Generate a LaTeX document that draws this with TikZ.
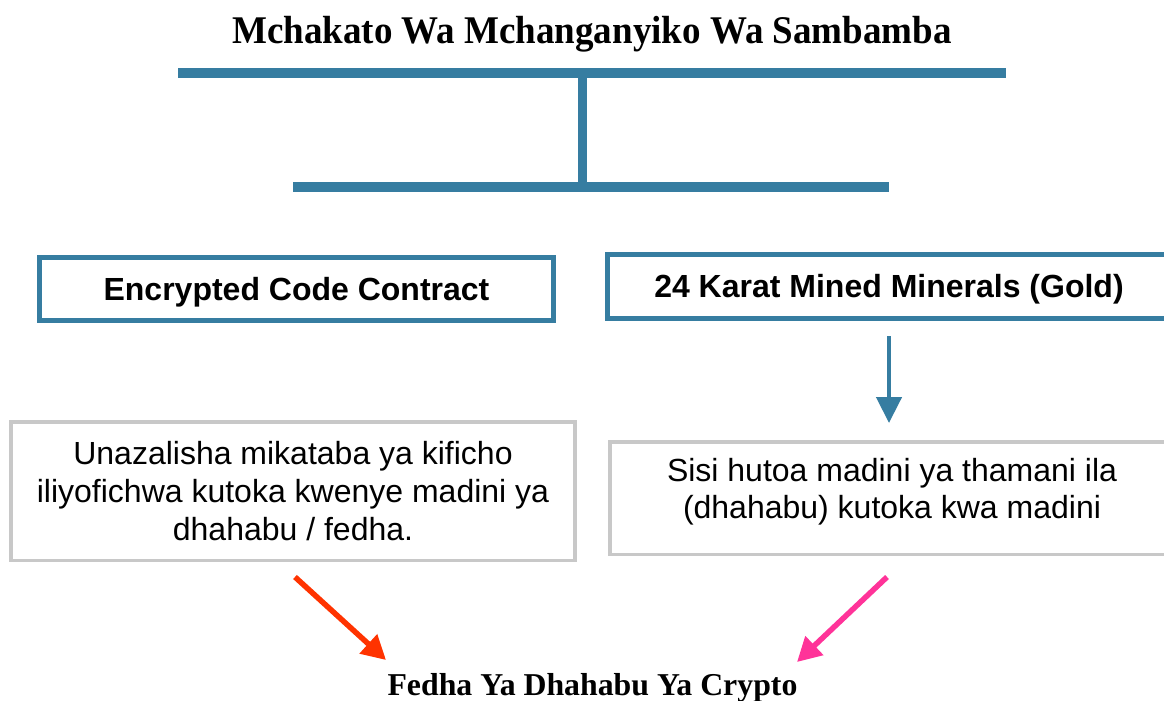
\documentclass[tikz,border=0pt]{standalone}
\usepackage{fontspec}
\setmainfont{Liberation Serif}
\newfontfamily\sansfam{Liberation Sans}
\usetikzlibrary{arrows.meta,calc}
\definecolor{steel}{RGB}{54,125,161}
\definecolor{boxgray}{RGB}{200,200,200}
\definecolor{redarr}{RGB}{255,51,0}
\definecolor{pinkarr}{RGB}{255,51,153}
\begin{document}
\begin{tikzpicture}[x=1pt,y=-1pt,
  bar/.style={draw=steel,line width=10pt},
  stem/.style={draw=steel,line width=9pt},
  headbox/.style={draw=steel,line width=5pt,fill=white,inner sep=0pt,
    font=\sansfam\bfseries\fontsize{32pt}{38pt}\selectfont,
    text height=26pt,text depth=4pt},
  textbox/.style={draw=boxgray,line width=3.5pt,fill=white,align=center,inner sep=0pt,
    font=\sansfam\fontsize{32pt}{38pt}\selectfont},
  heading/.style={inner sep=0pt,anchor=base},
  flow/.style={draw=steel,line width=4.5pt,-{Triangle[length=26pt,width=25pt]}},
  redflow/.style={draw=redarr,line width=5.5pt,-{Triangle[length=24pt,width=25pt]}},
  pinkflow/.style={draw=pinkarr,line width=5.5pt,-{Triangle[length=24pt,width=25pt]}}
]
\path[use as bounding box] (0,0) rectangle (1164,701);
\clip (0,0) rectangle (1164,701);
\fill[white] (0,0) rectangle (1164,701);

% title
\node[heading,font=\bfseries\fontsize{37pt}{40pt}\selectfont] (title) at (592,44)
  {\scalebox{1}[1.06]{Mchakato Wa Mchanganyiko Wa Sambamba}};

% bracket bars
\coordinate (tl) at (178,73);
\coordinate (tr) at (1006,73);
\coordinate (st) at (582,73);
\coordinate (sb) at (582,187);
\coordinate (bl) at (293,187);
\coordinate (br) at (889,187);
\draw[stem] (st) -- (sb);
\draw[bar] (tl) -- (tr);
\draw[bar] (bl) -- (br);

% header boxes
\node[headbox,minimum width=514pt,minimum height=63pt] (b1) at (296.5,289)
  {Encrypted Code Contract};
\node[headbox,minimum width=563pt,minimum height=64pt] (b2) at (889,286.5)
  {24 Karat Mined Minerals (Gold)};

% text boxes
\node[textbox,minimum width=564pt,minimum height=138.5pt] (b3) at (293,491)
  {Unazalisha mikataba ya kificho\\ iliyofichwa kutoka kwenye madini ya\\ dhahabu / fedha.};
\node[textbox,minimum width=564pt,minimum height=112.5pt,
  font=\sansfam\fontsize{32pt}{37pt}\selectfont] (b4) at (892,498)
  {Sisi hutoa madini ya thamani ila\\ (dhahabu) kutoka kwa madini\rule[-19pt]{0pt}{0pt}};

% bottom label
\node[heading,font=\bfseries\fontsize{31.8pt}{34pt}\selectfont] (fin) at (592.5,695)
  {Fedha Ya Dhahabu Ya Crypto};

% arrows
\draw[flow,shorten <=15pt,shorten >=17pt] (b2.south) -- (b2.south |- b4.north);
\coordinate (r1) at (295,577);
\coordinate (r2) at (386,660);
\coordinate (p1) at (887,577);
\coordinate (p2) at (797,662);
\draw[redflow] (r1) -- (r2);
\draw[pinkflow] (p1) -- (p2);
\end{tikzpicture}
\end{document}
